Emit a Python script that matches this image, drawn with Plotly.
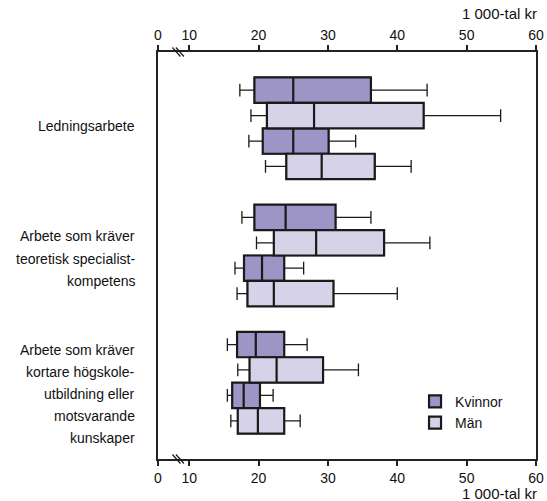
import plotly.graph_objects as go

# Yrkesgrupper (en rad per rad-text i etiketten)
categories = [
    ["Ledningsarbete"],
    ["Arbete som kräver", "teoretisk specialist-", "kompetens"],
    ["Arbete som kräver", "kortare högskole-", "utbildning eller", "motsvarande", "kunskaper"],
]

# Fyra lådor per grupp: Kvinnor, Män, Kvinnor, Män (tusental kr)
kv_low = [17.3, 18.6, 17.6, 16.6, 15.5, 15.5]
kv_q1 = [19.4, 20.6, 19.4, 17.9, 16.9, 16.2]
kv_med = [25.0, 25.0, 23.9, 20.5, 19.6, 17.85]
kv_q3 = [36.2, 30.1, 31.1, 23.7, 23.7, 20.2]
kv_high = [44.3, 34.0, 36.2, 26.5, 27.0, 22.1]

man_low = [18.9, 21.0, 19.7, 16.9, 17.0, 16.0]
man_q1 = [21.2, 24.0, 22.2, 18.4, 18.7, 17.0]
man_med = [28.0, 29.1, 28.3, 22.2, 22.6, 19.9]
man_q3 = [43.8, 36.75, 38.1, 30.8, 29.3, 23.7]
man_high = [54.9, 42.0, 44.7, 40.0, 34.4, 26.0]

tick_vals = [5.5, 10, 20, 30, 40, 50, 60]
tick_text = ["0", "10", "20", "30", "40", "50", "60"]

# radpositioner: 4 rader per grupp, en tom rad mellan grupperna
kv_rows = [0, 2, 5, 7, 10, 12]
man_rows = [1, 3, 6, 8, 11, 13]

kv_color = "#9c95c6"
man_color = "#d6d2e8"
edge = "#1a1a1a"
font = "Liberation Sans, Arial, sans-serif"

fig = go.Figure()

# morrhår (tunnare linje) under lådorna
for name, rows, low, q1, med, q3, high, col in [
    ("Kvinnor", kv_rows, kv_low, kv_q1, kv_med, kv_q3, kv_high, kv_color),
    ("Män", man_rows, man_low, man_q1, man_med, man_q3, man_high, man_color),
]:
    fig.add_trace(go.Box(
        y=rows, q1=q1, median=med, q3=q3, lowerfence=low, upperfence=high,
        orientation="h", width=1, whiskerwidth=0.5,
        fillcolor=col, line=dict(color=edge, width=1.3),
        showlegend=False, hoverinfo="skip", xaxis="x", yaxis="y",
    ))

# själva lådorna med tjockare kant
for name, rows, q1, med, q3, col in [
    ("Kvinnor", kv_rows, kv_q1, kv_med, kv_q3, kv_color),
    ("Män", man_rows, man_q1, man_med, man_q3, man_color),
]:
    fig.add_trace(go.Box(
        y=rows, q1=q1, median=med, q3=q3, lowerfence=q1, upperfence=q3,
        orientation="h", width=1, whiskerwidth=0,
        fillcolor=col, line=dict(color=edge, width=2.2),
        name=name, xaxis="x2", yaxis="y",
    ))

# etiketter för yrkesgrupperna
label_start = [1.4, 5.75, 10.2]
for lines, y0 in zip(categories, label_start):
    for i, txt in enumerate(lines):
        fig.add_annotation(
            text=txt, xref="paper", x=0, xshift=-21, xanchor="right",
            yref="y", y=y0 + i * 0.87, yanchor="middle",
            showarrow=False, font=dict(size=14, color="#111"),
        )

# enhetstext uppe och nere
for yy in [1, 0]:
    fig.add_annotation(
        text="1 000-tal kr", xref="paper", x=1, xshift=3, xanchor="right",
        yref="paper", y=yy, yshift=39 if yy else -34, yanchor="middle",
        showarrow=False, font=dict(size=15, color="#111"),
    )

# axelbrott //
for ya in [1, 0]:
    for dx in [0, 3.5]:
        fig.add_shape(
            type="line", xref="x", xsizemode="pixel", xanchor=8.3,
            x0=-5 + dx, x1=3 + dx,
            yref="paper", ysizemode="pixel", yanchor=ya, y0=4.5, y1=-4.5,
            line=dict(color=edge, width=1.2),
        )

axis_common = dict(
    range=[5.5, 60], tickvals=tick_vals, ticktext=tick_text,
    showline=True, linecolor="#222", linewidth=1.5, automargin=False,
    ticks="outside", ticklen=5, tickcolor="#222", tickwidth=1.5,
    showgrid=False, zeroline=False, tickfont=dict(size=14, color="#111"),
)

fig.update_layout(
    width=547, height=501,
    margin=dict(l=158, r=11, t=52, b=42, autoexpand=False),
    paper_bgcolor="white", plot_bgcolor="white",
    font=dict(family=font, size=14, color="#111"),
    xaxis=dict(side="bottom", **axis_common),
    xaxis2=dict(side="top", overlaying="x", **axis_common),
    yaxis=dict(range=[14.5, -1.5], showline=True, mirror=True,
               linecolor="#222", linewidth=1.5, showticklabels=False,
               ticks="", showgrid=False, zeroline=False, automargin=False),
    boxmode="overlay",
    legend=dict(x=0.68, y=0.18, xanchor="left", yanchor="top",
                bgcolor="rgba(0,0,0,0)", font=dict(size=14),
                tracegroupgap=2),
)

# ta bort sidans standardmarginal så att figuren börjar i hörnet
fig.write_html(
    "out.html",
    config={"displayModeBar": False},
    post_script="document.body.style.margin='0';document.body.style.overflow='hidden';",
)
